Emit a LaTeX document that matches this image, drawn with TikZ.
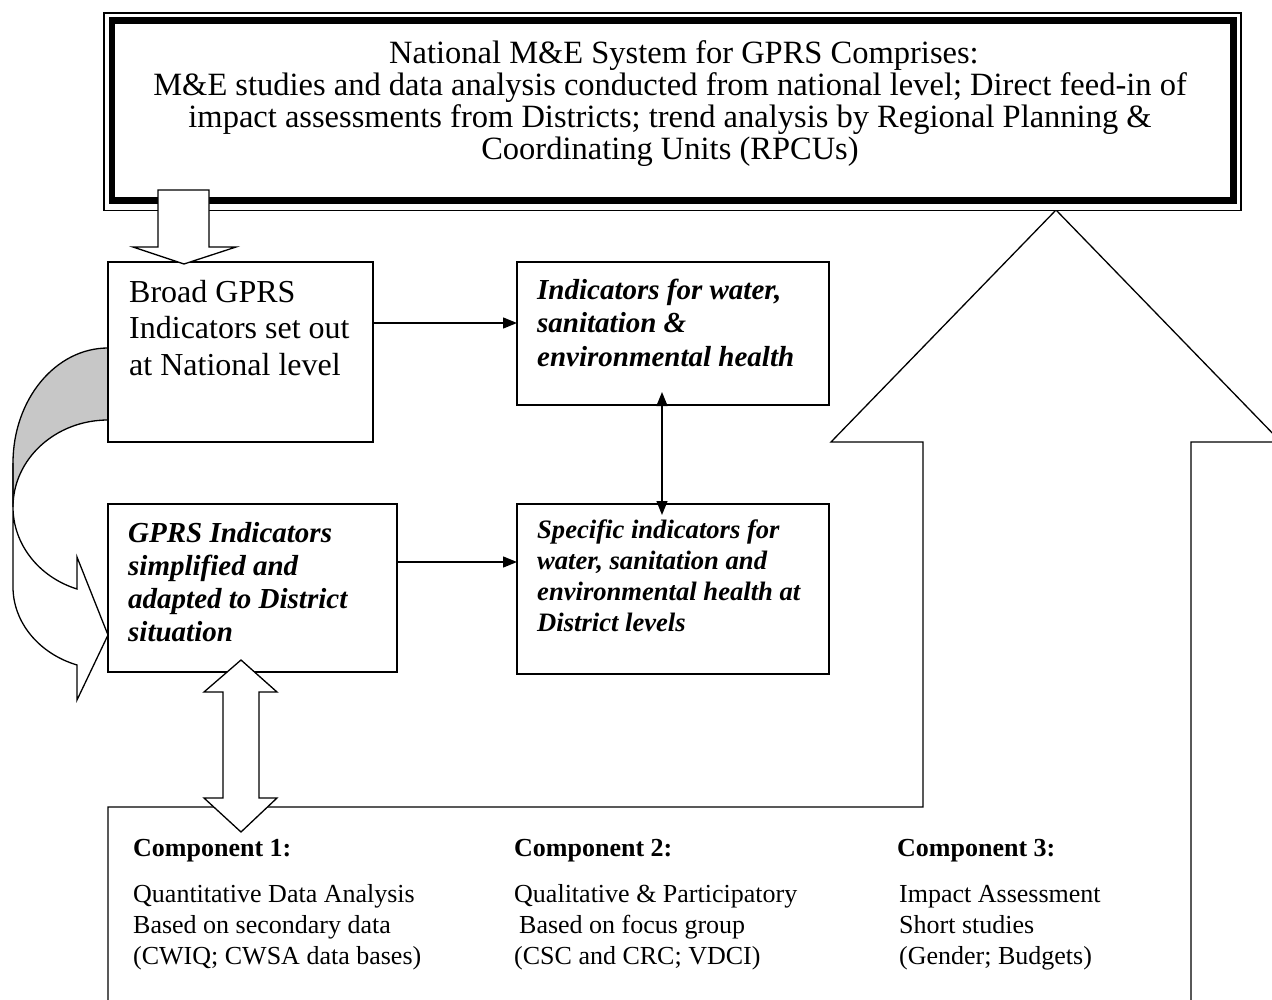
\documentclass[tikz,border=0pt]{standalone}
\usepackage{fontspec}
\setmainfont{Liberation Serif}
\usetikzlibrary{arrows.meta}
\newcommand\mylines[2]{\begin{tabular}[t]{@{}#1@{}}#2\end{tabular}}
\begin{document}
\begin{tikzpicture}[x=1pt,y=-1pt,
  box/.style={draw,line width=1.3pt,anchor=north west,inner sep=0pt,outer sep=0pt},
  txt/.style={inner sep=0pt,anchor=base west},
  arr/.style={line width=1.4pt,-{Triangle[length=14pt,width=11pt]}},
  darr/.style={line width=1.4pt,{Triangle[length=14pt,width=11pt]}-{Triangle[length=14pt,width=11pt]}},
  blk/.style={draw,line width=1.3pt,fill=white,line join=miter},
]
\useasboundingbox (0,0) rectangle (1272,999);
\clip (0,0) rectangle (1272,999);

% bottom container merged with the big up arrow
\draw[blk] (108,1010) -- (108,807) -- (923,807) -- (923,442) -- (831,442) -- (1056,210)
  -- (1281,442) -- (1191,442) -- (1191,1010);

% top box
\node[draw,line width=1.7pt,fill=white,anchor=north west,inner sep=0pt,outer sep=0pt,
  minimum width=1137.3pt,minimum height=197.5pt] (top) at (104,13) {};
\draw[line width=6.5pt] ([shift={(8,7.3)}]top.north west) rectangle ([shift={(-7.6,-10.2)}]top.south east);
\node[inner sep=0pt,anchor=base] (toptext) at (670,63) {\fontsize{32.5}{31.5}\selectfont
  \mylines{c}{\hspace*{28pt}National M\&E System for GPRS Comprises:\\
  M\&E studies and data analysis conducted from national level; Direct feed-in of\\
  impact assessments from Districts; trend analysis by Regional Planning \&\\
  Coordinating Units (RPCUs)}};

% curved arrow on the left
\draw[line width=1.3pt,fill=black!22] (108,348) .. controls (55.5,348) and (13,399.5) .. (13,463)
  -- (13,507) .. controls (13,459) and (55.5,420) .. (108,420);
\draw[blk] (13,463) -- (13,587) .. controls (13,622) and (38.6,653.5) .. (77,665)
  -- (77,700) -- (108,635) -- (77,557) -- (77,589) .. controls (38.6,577) and (13,544) .. (13,507);

% boxes
\node[box,minimum width=265pt,minimum height=180pt] (broad) at (108,262) {};
\node[txt] (broadtext) at (129,302) {\fontsize{32}{36.5}\selectfont
  \mylines{l}{Broad GPRS\\Indicators set out\\at National level}};

\node[box,minimum width=312pt,minimum height=143pt] (ind) at (517,262) {};
\node[txt] (indtext) at (537,299) {\fontsize{29}{33.5}\selectfont\bfseries\itshape
  \mylines{l}{Indicators for water,\\sanitation \&\\environmental health}};

\node[box,minimum width=289pt,minimum height=168pt] (simp) at (108,504) {};
\node[txt] (simptext) at (128,542) {\fontsize{29}{33.3}\selectfont\bfseries\itshape
  \mylines{l}{GPRS Indicators\\simplified and\\adapted to District\\situation}};

\node[box,minimum width=312pt,minimum height=170pt] (spec) at (517,504) {};
\node[txt] (spectext) at (537,538) {\fontsize{26.6}{31}\selectfont\bfseries\itshape
  \mylines{l}{Specific indicators for\\water, sanitation and\\environmental health at\\District levels}};

% connectors
\draw[arr] ([yshift=29pt]broad.east) -- ([yshift=10.5pt]ind.west);
\draw[arr] ([yshift=26pt]simp.east) -- ([yshift=27pt]spec.west);
\draw[darr] ([xshift=-11pt,yshift=13pt]ind.south) -- ([xshift=-11pt,yshift=-11pt]spec.north);

% block arrows
\draw[blk] (158,190) -- (209,190) -- (209,247) -- (236,247) -- (184,264) -- (133,247) -- (158,247) -- cycle;
\draw[blk] (241,660) -- (277,692) -- (259,692) -- (259,798) -- (277,798) -- (241,832)
  -- (204,798) -- (223,798) -- (223,692) -- (204,692) -- cycle;

% components
\node[txt] (c1h) at (133,856) {\fontsize{26}{31}\selectfont\bfseries Component 1:};
\node[txt] (c1) at (133,902) {\fontsize{26}{31}\selectfont
  \mylines{l}{Quantitative Data Analysis\\Based on secondary data\\(CWIQ; CWSA data bases)}};
\node[txt] (c2h) at (514,856) {\fontsize{26}{31}\selectfont\bfseries Component 2:};
\node[txt] (c2) at (514,902) {\fontsize{26}{31}\selectfont
  \mylines{l}{Qualitative \& Participatory\\\hspace*{5pt}Based on focus group\\(CSC and CRC; VDCI)}};
\node[txt] (c3h) at (897,856) {\fontsize{26}{31}\selectfont\bfseries Component 3:};
\node[txt] (c3) at (899,902) {\fontsize{26}{31}\selectfont
  \mylines{l}{Impact Assessment\\Short studies\\(Gender; Budgets)}};
\end{tikzpicture}
\end{document}
